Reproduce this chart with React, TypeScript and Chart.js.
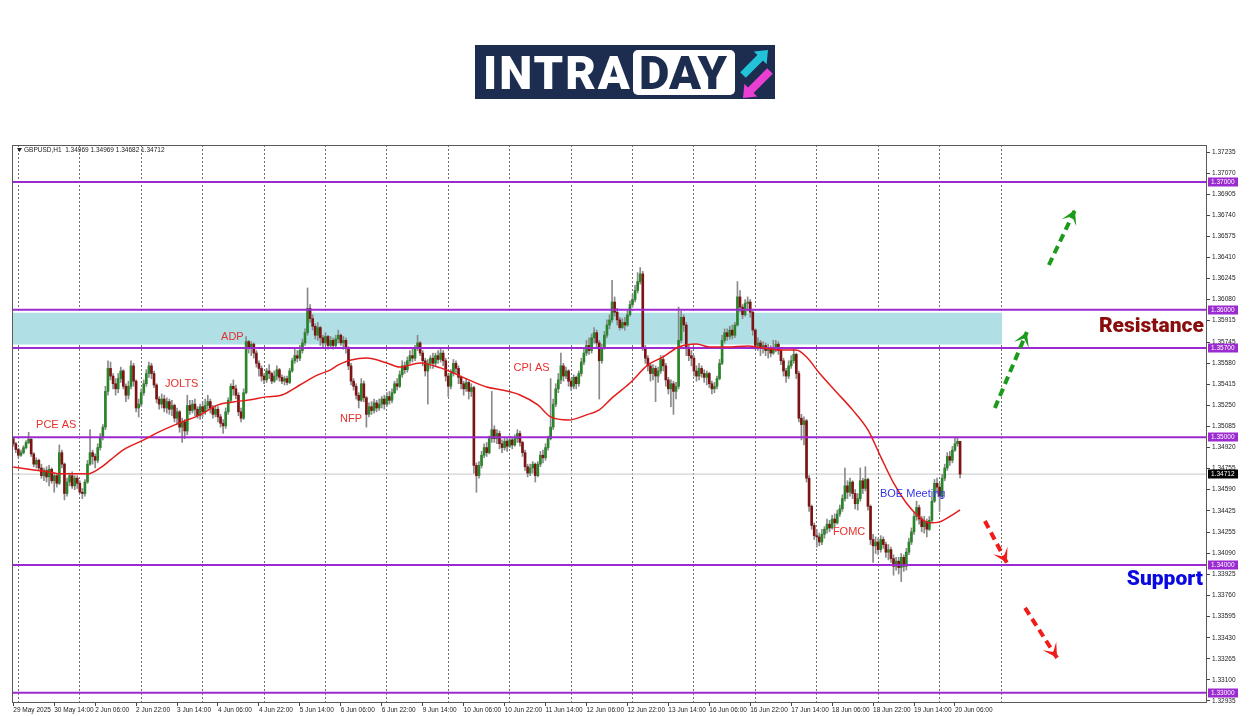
import React, { useEffect, useRef } from "react";
import { Chart, registerables } from "chart.js";

Chart.register(...registerables);

// ---------- data (prices stored as 1e-5 offsets from 1.30000) ----------
const PRICE_BASE = 1.3;
const PRICE_UNIT = 100000;

const FIRST_OPEN = 4990;

const CLOSES = [
  4950, 4905, 4860, 4880, 4920, 4960, 4985, 4870, 4790, 4820,
  4760, 4700, 4740, 4690, 4750, 4660, 4700, 4640, 4880, 4790,
  4560, 4650, 4700, 4620, 4680, 4640, 4570, 4560, 4650, 4790,
  4880, 4850, 4820, 4920, 5000, 5080, 5360, 5540, 5480, 5420,
  5380, 5460, 5520, 5400, 5330, 5400, 5560, 5440, 5230, 5260,
  5350, 5420, 5500, 5560, 5500, 5410, 5300, 5260, 5300, 5230,
  5280, 5220, 5250, 5150, 5200, 5080, 5120, 5050, 5250, 5210,
  5260, 5220, 5170, 5240, 5200, 5250, 5280, 5230, 5180, 5220,
  5160, 5110, 5090, 5200, 5290, 5400, 5380, 5330, 5200, 5150,
  5350, 5750, 5700, 5730, 5660, 5580, 5540, 5480, 5450, 5520,
  5500, 5440, 5480, 5530, 5470, 5440, 5460, 5430, 5520, 5600,
  5640, 5620, 5680, 5740, 5820, 6010, 5930, 5870, 5800, 5860,
  5780, 5740, 5790, 5720, 5760, 5720, 5770, 5800, 5740, 5760,
  5700, 5560, 5440, 5400, 5330, 5290, 5420, 5310, 5180, 5240,
  5210, 5270, 5230, 5260, 5300, 5260, 5320, 5290, 5350, 5420,
  5400, 5490, 5560, 5530, 5600, 5640, 5620, 5700, 5740, 5660,
  5600, 5520, 5580, 5620, 5580, 5640, 5610, 5660, 5600, 5480,
  5400, 5500, 5580, 5540, 5470, 5420, 5380, 5430, 5360, 5390,
  4780, 4700, 4780, 4860, 4920, 4880, 4990, 5060, 4990, 5030,
  4950, 4920, 4970, 4930, 4980, 4940, 4990, 5030, 4960, 4880,
  4770, 4720, 4760, 4790, 4700, 4790, 4860, 4840, 4920, 4990,
  5080, 5260, 5380, 5450, 5560, 5480, 5520, 5440, 5400, 5470,
  5420, 5500, 5590, 5660, 5720, 5680, 5780, 5820, 5740, 5600,
  5700, 5800, 5880, 5920, 6060, 5980, 5920, 5860, 5900, 5880,
  5960, 6040, 6080, 6150, 6220, 6280, 5700, 5620, 5560, 5500,
  5540, 5480, 5520, 5610, 5560, 5450, 5380, 5420, 5360, 5400,
  5760, 5940, 5880, 5700, 5640, 5620, 5520, 5480, 5540, 5500,
  5470, 5500, 5420, 5380, 5400, 5460, 5580, 5760, 5820, 5790,
  5840, 5800, 5880, 6100, 6020, 5960, 6050, 6060, 5980, 5840,
  5720, 5740, 5700, 5720, 5680, 5700, 5660, 5700, 5730, 5680,
  5600, 5520, 5480, 5560, 5600, 5650, 5500, 5150, 5100, 5130,
  4680, 4460, 4310, 4230, 4220, 4180, 4240, 4280, 4320, 4290,
  4360, 4330, 4400, 4440, 4520, 4620, 4570, 4650, 4560, 4480,
  4520, 4660, 4600, 4670, 4460, 4200, 4150, 4180, 4120, 4200,
  4160, 4100, 4120, 4050, 3990, 4030, 3980, 4060, 3990, 4100,
  4180, 4260, 4380, 4450, 4360, 4300, 4340, 4280, 4350, 4500,
  4640, 4610, 4540, 4680, 4760, 4850, 4820, 4900, 4950, 4969,
  4712,
];

const HIGHS = [
  5000, 4960, 4915, 4900, 4935, 4975, 5040, 4990, 4880, 4840,
  4830, 4790, 4760, 4770, 4780, 4760, 4720, 4710, 4940, 4900,
  4800, 4680, 4720, 4730, 4700, 4700, 4660, 4600, 4670, 4820,
  5060, 4900, 4870, 4950, 5030, 5100, 5400, 5600, 5590, 5500,
  5460, 5500, 5550, 5530, 5420, 5440, 5600, 5580, 5450, 5300,
  5380, 5450, 5530, 5590, 5580, 5520, 5420, 5320, 5340, 5330,
  5310, 5300, 5290, 5260, 5230, 5210, 5150, 5140, 5330, 5290,
  5290, 5300, 5240, 5260, 5280, 5300, 5330, 5300, 5250, 5250,
  5240, 5180, 5140, 5230, 5310, 5420, 5450, 5410, 5350, 5230,
  5380, 5790, 5760, 5750, 5740, 5680, 5600, 5560, 5500, 5540,
  5570, 5510, 5520, 5560, 5540, 5490, 5480, 5480, 5540, 5620,
  5690, 5680, 5720, 5770, 5850, 6170, 6040, 5960, 5890, 5900,
  5870, 5800, 5820, 5800, 5790, 5780, 5800, 5840, 5810, 5790,
  5780, 5710, 5580, 5460, 5420, 5350, 5460, 5440, 5320, 5270,
  5280, 5300, 5290, 5300, 5320, 5330, 5350, 5360, 5380, 5440,
  5460, 5520, 5600, 5590, 5630, 5680, 5690, 5720, 5800, 5750,
  5680, 5620, 5610, 5640, 5660, 5660, 5680, 5690, 5680, 5620,
  5500, 5530, 5610, 5600, 5560, 5480, 5440, 5460, 5440, 5420,
  5400, 4800, 4810, 4890, 4950, 4960, 5010, 5360, 5090, 5060,
  5050, 4980, 5000, 4990, 5010, 5000, 5020, 5060, 5050, 4970,
  4900, 4790, 4790, 4810, 4800, 4810, 4890, 4900, 4950, 5010,
  5460, 5300, 5420, 5500, 5660, 5580, 5550, 5530, 5460, 5490,
  5480, 5520, 5620, 5700, 5760, 5780, 5810, 5860, 5840, 5760,
  5730, 5830, 5920, 5960, 6230, 6100, 6010, 5940, 5930, 5940,
  5990, 6070, 6120, 6190, 6290, 6330, 6300, 5720, 5640, 5580,
  5570, 5560, 5550, 5640, 5640, 5580, 5470, 5450, 5440, 5430,
  6020, 5990, 5960, 5900, 5720, 5680, 5640, 5560, 5580, 5560,
  5530, 5520, 5510, 5440, 5430, 5480, 5610, 5800, 5850, 5850,
  5870, 5880, 5900, 6220, 6150, 6040, 6080, 6100, 6080, 5990,
  5850, 5780, 5760, 5750, 5740, 5730, 5720, 5760, 5760, 5750,
  5700, 5620, 5540, 5600, 5640, 5690, 5660, 5520, 5180, 5160,
  5140, 4700, 4470, 4330, 4280, 4250, 4280, 4300, 4360, 4350,
  4390, 4400, 4430, 4470, 4550, 4760, 4660, 4680, 4660, 4590,
  4560, 4760, 4680, 4770, 4680, 4470, 4240, 4220, 4210, 4230,
  4220, 4180, 4160, 4140, 4080, 4060, 4060, 4090, 4080, 4130,
  4210, 4290, 4410, 4500, 4470, 4380, 4380, 4360, 4380, 4530,
  4670, 4680, 4640, 4710, 4790, 4880, 4890, 4930, 5000, 5000,
  4969,
];

const LOWS = [
  4930, 4880, 4840, 4850, 4870, 4910, 4950, 4850, 4770, 4760,
  4740, 4680, 4660, 4650, 4620, 4640, 4570, 4610, 4630, 4760,
  4510, 4540, 4620, 4600, 4590, 4600, 4560, 4520, 4540, 4640,
  4780, 4790, 4760, 4800, 4900, 4980, 5060, 5330, 5450, 5380,
  5330, 5350, 5430, 5380, 5280, 5300, 5380, 5400, 5200, 5160,
  5240, 5330, 5400, 5470, 5460, 5390, 5270, 5220, 5230, 5200,
  5190, 5180, 5170, 5120, 5100, 5040, 4960, 4990, 5020, 5180,
  5190, 5170, 5150, 5140, 5160, 5180, 5220, 5190, 5150, 5160,
  5120, 5080, 5030, 5070, 5180, 5270, 5330, 5300, 5170, 5120,
  5140, 5340, 5660, 5640, 5620, 5550, 5480, 5440, 5420, 5430,
  5460, 5420, 5430, 5450, 5440, 5420, 5410, 5410, 5420, 5510,
  5580, 5590, 5600, 5660, 5720, 5800, 5900, 5840, 5770, 5760,
  5720, 5700, 5720, 5690, 5700, 5690, 5700, 5740, 5720, 5690,
  5660, 5530, 5410, 5370, 5300, 5230, 5280, 5280, 5080, 5160,
  5180, 5190, 5200, 5210, 5230, 5220, 5240, 5260, 5270, 5340,
  5370, 5390, 5470, 5500, 5510, 5580, 5590, 5600, 5680, 5640,
  5560, 5480, 5260, 5540, 5540, 5560, 5580, 5590, 5560, 5440,
  5320, 5380, 5480, 5500, 5420, 5380, 5330, 5360, 5300, 5320,
  4720, 4570, 4680, 4760, 4840, 4850, 4870, 4960, 4960, 4950,
  4910, 4880, 4900, 4890, 4920, 4910, 4930, 4960, 4930, 4850,
  4740, 4690, 4700, 4720, 4650, 4690, 4770, 4800, 4820, 4900,
  4980, 5060, 5240, 5350, 5420, 5440, 5460, 5400, 5370, 5380,
  5380, 5400, 5480, 5570, 5640, 5650, 5660, 5740, 5700, 5300,
  5580, 5690, 5780, 5850, 5900, 5950, 5880, 5840, 5850, 5840,
  5870, 5950, 6020, 6060, 6130, 6200, 5680, 5580, 5520, 5440,
  5450, 5280, 5430, 5500, 5520, 5400, 5340, 5240, 5180, 5300,
  5380, 5740, 5830, 5640, 5600, 5560, 5480, 5440, 5450, 5470,
  5430, 5410, 5390, 5340, 5350, 5380, 5450, 5570, 5740, 5760,
  5770, 5770, 5780, 5870, 5980, 5930, 5950, 5990, 5940, 5800,
  5690, 5680, 5640, 5660, 5640, 5620, 5630, 5650, 5670, 5650,
  5570, 5480, 5430, 5460, 5540, 5580, 5460, 5120, 4980, 4940,
  4650, 4420, 4280, 4200, 4140, 4150, 4160, 4210, 4250, 4260,
  4280, 4300, 4320, 4380, 4420, 4500, 4520, 4540, 4520, 4440,
  4430, 4500, 4560, 4580, 4430, 4160, 4020, 4090, 4080, 4100,
  4130, 4060, 4040, 4020, 3920, 3960, 3930, 3870, 3950, 3960,
  4080, 4160, 4240, 4350, 4320, 4260, 4250, 4220, 4270, 4340,
  4490, 4560, 4420, 4520, 4660, 4740, 4780, 4800, 4890, 4930,
  4682,
];

// moving average readings: bar index -> value
const MA_BARS = [
  0, 8, 14, 18, 26, 29, 34, 38, 43, 51, 57, 65, 73, 80, 86, 92, 99, 105, 112,
  119, 124, 127, 132, 138, 146, 151, 159, 167, 172, 178, 185, 191, 198, 205,
  210, 217, 224, 229, 234, 241, 248, 254, 260, 267, 272, 279, 287, 293, 300,
  306, 310, 315, 322, 328, 334, 339, 344, 349, 354, 358, 362, 367, 370,
];
const MA_VALUES = [
  4768, 4745, 4729, 4714, 4714, 4714, 4761, 4823, 4902, 4980, 5043, 5113, 5176,
  5254, 5277, 5293, 5317, 5332, 5410, 5489, 5528, 5567, 5606, 5622, 5583, 5551,
  5583, 5544, 5504, 5450, 5395, 5371, 5332, 5254, 5160, 5136, 5176, 5215, 5309,
  5426, 5567, 5630, 5708, 5732, 5708, 5708, 5716, 5700, 5685, 5685, 5630, 5504,
  5348, 5215, 5058, 4847, 4643, 4486, 4377, 4330, 4338, 4393, 4432,
];

const X_TICK_LABELS = [
  "29 May 2025", "30 May 14:00", "2 Jun 06:00", "2 Jun 22:00", "3 Jun 14:00",
  "4 Jun 06:00", "4 Jun 22:00", "5 Jun 14:00", "6 Jun 06:00", "6 Jun 22:00",
  "9 Jun 14:00", "10 Jun 06:00", "10 Jun 22:00", "11 Jun 14:00", "12 Jun 06:00",
  "12 Jun 22:00", "13 Jun 14:00", "16 Jun 06:00", "16 Jun 22:00", "17 Jun 14:00",
  "18 Jun 06:00", "18 Jun 22:00", "19 Jun 14:00", "20 Jun 06:00",
];
const LABEL_STEP = 16;
const GRID_FIRST = 2;
const GRID_STEP = 24;
const GRID_LAST = 386;
const SLOT_COUNT = 467;

const Y_TICK_LABELS = [
  "1.37235", "1.37070", "1.36905", "1.36740", "1.36575", "1.36410", "1.36245",
  "1.36080", "1.35915", "1.35745", "1.35580", "1.35415", "1.35250", "1.35085",
  "1.34920", "1.34755", "1.34590", "1.34425", "1.34255", "1.34090", "1.33925",
  "1.33760", "1.33595", "1.33430", "1.33265", "1.33100", "1.32935",
];
const Y_MIN = 1.32919;
const Y_MAX = 1.3729;

const LEVELS = [1.37, 1.36, 1.357, 1.35, 1.34, 1.33];
const ZONE_TOP = 1.35976;
const ZONE_BOTTOM = 1.35727;
const ZONE_END_BAR = 386.5;
const CURRENT_PRICE = 1.34712;

const EVENT_NAMES = ["PCE AS", "JOLTS", "ADP", "NFP", "CPI AS", "FOMC", "BOE Meeting"];
const EVENT_BARS = [8.9, 59.3, 81.2, 127.7, 195.5, 320.3, 338.7];
const EVENT_PRICES = [1.35097, 1.35418, 1.35786, 1.35144, 1.35544, 1.3426, 1.34557];

const ZONE_NAMES = ["Resistance", "Support"];
const ZONE_LABEL_BARS = [465.3, 464.9];
const ZONE_LABEL_PRICES = [1.35865, 1.33885];

const UP_ARROWS = [
  [[404.7, 1.3635], [414.9, 1.36781]],
  [[383.6, 1.3523], [396.1, 1.35825]],
];
const DOWN_ARROWS = [
  [[379.7, 1.34345], [388.3, 1.34017]],
  [[395.4, 1.33664], [407.9, 1.33273]],
];

const HEADER_TEXT = "GBPUSD,H1  1.34969 1.34969 1.34682 1.34712";

// ---------- styles ----------
const BULL = "#2a852a";
const BEAR = "#7d1414";
const WICK = "#8a8a8a";
const PURPLE = "#9b2bd0";
const ZONE_FILL = "#b0e0e6";
const MA_COLOR = "#e41c1c";
const GREEN_ARROW = "#1c9a1c";
const RED_ARROW = "#f01c1c";
const TICK_FONT = { family: "Liberation Sans", size: 6.5 };

const toPrice = (v: number) => PRICE_BASE + v / PRICE_UNIT;

function Logo() {
  const navy = "#1c2d50";
  return (
    <div style={{ position: "absolute", left: 475, top: 45, width: 300, height: 54, background: navy }}>
      <div style={{ position: "absolute", left: 8, top: 4, font: "900 47px Roboto", lineHeight: "47px", color: "#fff", letterSpacing: "2px", whiteSpace: "nowrap" }}>
        INTRA
      </div>
      <div style={{ position: "absolute", left: 158, top: 5, width: 102, height: 45, background: "#fff", borderRadius: 5 }} />
      <div style={{ position: "absolute", left: 164, top: 4, font: "900 47px Roboto", lineHeight: "47px", color: navy, whiteSpace: "nowrap" }}>
        DAY
      </div>
      <svg width={300} height={54} style={{ position: "absolute", left: 0, top: 0, overflow: "visible" }}>
        <polygon points="293,5 291.6,19.2 288,15.6 270.8,32.8 265.2,27.2 282.4,10 278.8,6.4" fill="#22c3d8" />
        <polygon points="268,53 269.4,38.8 273,42.4 292.2,23.2 297.8,28.8 278.6,48 282.2,51.6" fill="#e93fd2" />
      </svg>
    </div>
  );
}

export default function App() {
  const ref = useRef<HTMLCanvasElement>(null);

  useEffect(() => {
    const canvas = ref.current;
    if (!canvas) return;

    const opens = CLOSES.map((_, i) => (i === 0 ? FIRST_OPEN : CLOSES[i - 1]));
    const bodyData = CLOSES.map((c, i) => ({ x: i, y: [toPrice(opens[i]), toPrice(c)] }));
    const wickData = CLOSES.map((_, i) => ({ x: i, y: [toPrice(LOWS[i]), toPrice(HIGHS[i])] }));
    const bodyColors = CLOSES.map((c, i) => (c >= opens[i] ? BULL : BEAR));
    const xMin = -0.5;
    const xMax = SLOT_COUNT - 0.5;

    const hLine = (y: number, color: string, width: number, order: number) => ({
      type: "line" as const,
      data: [{ x: xMin, y }, { x: xMax, y }],
      borderColor: color,
      borderWidth: width,
      pointRadius: 0,
      fill: false,
      order,
    });

    const arrowSet = (pts: number[][], color: string) => ({
      type: "line" as const,
      data: pts.map((p) => ({ x: p[0], y: p[1] })),
      borderColor: color,
      borderWidth: 4,
      borderDash: [8, 5],
      borderCapStyle: "butt" as const,
      pointRadius: 0,
      fill: false,
      order: 1,
      arrowHead: true,
    });

    const datasets: any[] = [
      {
        type: "line",
        data: [{ x: xMin, y: ZONE_TOP }, { x: ZONE_END_BAR, y: ZONE_TOP }],
        borderWidth: 0,
        pointRadius: 0,
        fill: "+1",
        backgroundColor: ZONE_FILL,
        order: 20,
      },
      {
        type: "line",
        data: [{ x: xMin, y: ZONE_BOTTOM }, { x: ZONE_END_BAR, y: ZONE_BOTTOM }],
        borderWidth: 0,
        pointRadius: 0,
        fill: false,
        order: 21,
      },
      hLine(CURRENT_PRICE, "#c8c8c8", 1, 15),
      {
        type: "bar",
        data: wickData,
        backgroundColor: WICK,
        barThickness: 1,
        grouped: false,
        borderWidth: 0,
        order: 10,
      },
      {
        type: "bar",
        data: bodyData,
        backgroundColor: bodyColors,
        barThickness: 2,
        minBarLength: 1,
        grouped: false,
        borderWidth: 0,
        order: 9,
      },
      ...LEVELS.map((lv) => hLine(lv, PURPLE, 2, 6)),
      {
        type: "line",
        data: MA_BARS.map((b, k) => ({ x: b, y: toPrice(MA_VALUES[k]) })),
        borderColor: MA_COLOR,
        borderWidth: 1.5,
        pointRadius: 0,
        fill: false,
        cubicInterpolationMode: "monotone",
        order: 4,
      },
      ...UP_ARROWS.map((a) => arrowSet(a, GREEN_ARROW)),
      ...DOWN_ARROWS.map((a) => arrowSet(a, RED_ARROW)),
    ];

    const overlayPlugin = {
      id: "overlay",
      afterDatasetsDraw(chart: any) {
        const { ctx } = chart;
        const xs = chart.scales.x;
        const ys = chart.scales.y;
        // arrow heads
        chart.data.datasets.forEach((ds: any, i: number) => {
          if (!ds.arrowHead) return;
          const pts = chart.getDatasetMeta(i).data;
          const p0 = pts[pts.length - 2];
          const p1 = pts[pts.length - 1];
          const ang = Math.atan2(p1.y - p0.y, p1.x - p0.x);
          const dx = Math.cos(ang), dy = Math.sin(ang);
          const px = -dy, py = dx;
          const L = 14, W = 8, N = 7;
          ctx.save();
          ctx.fillStyle = ds.borderColor;
          ctx.beginPath();
          ctx.moveTo(p1.x, p1.y);
          ctx.lineTo(p1.x - L * dx + W * px, p1.y - L * dy + W * py);
          ctx.lineTo(p1.x - N * dx, p1.y - N * dy);
          ctx.lineTo(p1.x - L * dx - W * px, p1.y - L * dy - W * py);
          ctx.closePath();
          ctx.fill();
          ctx.restore();
        });
        // event labels
        ctx.save();
        ctx.textBaseline = "middle";
        ctx.textAlign = "left";
        ctx.font = "11px 'Liberation Sans'";
        EVENT_NAMES.forEach((name, k) => {
          ctx.fillStyle = name === "BOE Meeting" ? "#3434e4" : "#e6302c";
          ctx.fillText(name, xs.getPixelForValue(EVENT_BARS[k]), ys.getPixelForValue(EVENT_PRICES[k]));
        });
        ctx.textAlign = "right";
        ctx.font = "900 21px Roboto";
        ZONE_NAMES.forEach((name, k) => {
          ctx.fillStyle = k === 0 ? "#8a0c0c" : "#0a0ae0";
          ctx.fillText(name, xs.getPixelForValue(ZONE_LABEL_BARS[k]), ys.getPixelForValue(ZONE_LABEL_PRICES[k]));
        });
        ctx.restore();
      },
      afterDraw(chart: any) {
        const { ctx, chartArea: a } = chart;
        const ys = chart.scales.y;
        ctx.save();
        // frame
        ctx.strokeStyle = "#5a5a5a";
        ctx.lineWidth = 1;
        ctx.strokeRect(Math.round(a.left) + 0.5, Math.round(a.top) + 0.5, Math.round(a.right - a.left) - 1, Math.round(a.bottom - a.top) - 1);
        // header
        ctx.fillStyle = "#222";
        ctx.beginPath();
        ctx.moveTo(a.left + 5, a.top + 3);
        ctx.lineTo(a.left + 10, a.top + 3);
        ctx.lineTo(a.left + 7.5, a.top + 7);
        ctx.closePath();
        ctx.fill();
        ctx.font = "6.5px 'Liberation Sans'";
        ctx.textBaseline = "middle";
        ctx.textAlign = "left";
        ctx.fillText(HEADER_TEXT, a.left + 12, a.top + 5);
        // price labels on axis
        const box = (v: number, bg: string) => {
          const y = ys.getPixelForValue(v);
          ctx.fillStyle = bg;
          ctx.fillRect(a.right + 1, Math.round(y) - 4.5, 30, 9);
          ctx.fillStyle = "#fff";
          ctx.fillText(v.toFixed(5), a.right + 4, Math.round(y));
        };
        LEVELS.forEach((lv) => box(lv, PURPLE));
        box(CURRENT_PRICE, "#000");
        ctx.restore();
      },
    };

    const chart = new Chart(canvas, {
      type: "bar",
      data: { datasets },
      options: {
        animation: false,
        responsive: false,
        devicePixelRatio: 1,
        events: [],
        layout: { padding: { left: 12, top: 145, right: 0, bottom: 0 } },
        plugins: { legend: { display: false }, tooltip: { enabled: false } },
        scales: {
          x: {
            type: "linear",
            position: "bottom",
            min: xMin,
            max: xMax,
            offset: false,
            afterBuildTicks: (s: any) => {
              s.ticks = X_TICK_LABELS.map((_, k) => ({ value: k * LABEL_STEP }));
            },
            afterFit: (s: any) => {
              s.height = 13;
            },
            grid: { display: true, drawOnChartArea: false, drawTicks: true, tickLength: 3, color: "#444", offset: false },
            border: { display: false },
            ticks: {
              autoSkip: false,
              maxRotation: 0,
              minRotation: 0,
              align: "start",
              padding: 0,
              color: "#222",
              font: TICK_FONT,
              callback: (v: any) => X_TICK_LABELS[Math.round(Number(v) / LABEL_STEP)] ?? "",
            },
          },
          xg: {
            type: "linear",
            position: "bottom",
            min: xMin,
            max: xMax,
            offset: false,
            afterBuildTicks: (s: any) => {
              const t: any[] = [];
              for (let b = GRID_FIRST; b <= GRID_LAST; b += GRID_STEP) t.push({ value: b });
              s.ticks = t;
            },
            afterFit: (s: any) => {
              s.height = 0;
            },
            grid: { display: true, drawOnChartArea: true, drawTicks: false, color: "#707070", offset: false },
            border: { display: false, dash: [2, 2] },
            ticks: { display: false },
          },
          y: {
            type: "linear",
            position: "right",
            min: Y_MIN,
            max: Y_MAX,
            beginAtZero: false,
            afterBuildTicks: (s: any) => {
              s.ticks = Y_TICK_LABELS.map((t) => ({ value: parseFloat(t) }));
            },
            afterFit: (s: any) => {
              s.width = 43;
            },
            grid: { display: true, drawOnChartArea: false, drawTicks: true, tickLength: 3, color: "#444" },
            border: { display: false },
            ticks: {
              autoSkip: false,
              padding: 2,
              color: "#222",
              font: TICK_FONT,
              callback: (_v: any, i: number) => Y_TICK_LABELS[i],
            },
          },
        },
      } as any,
      plugins: [overlayPlugin],
    });

    return () => chart.destroy();
  }, []);

  return (
    <>
      <canvas ref={ref} width={1250} height={716} style={{ position: "absolute", left: 0, top: 0, width: 1250, height: 716 }} />
      <Logo />
    </>
  );
}
